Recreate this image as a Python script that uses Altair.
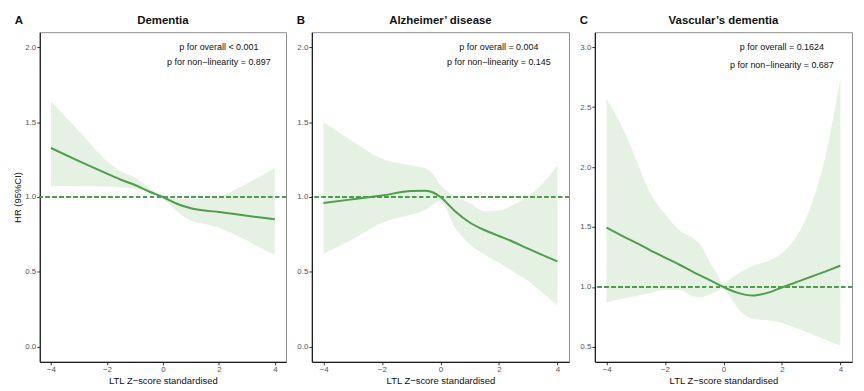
import altair as alt
import pandas as pd

GREEN = "#4d9e4a"
BAND = "#e5f1e2"
FONT = "Liberation Sans"

# ---- Panel A: Dementia ----
a_x = [-4, -3, -2, -1.5, -1, -0.5, 0, 0.5, 1, 1.5, 2, 2.5, 3, 3.5, 4]
a_hr = [1.327, 1.24, 1.156, 1.115, 1.08, 1.037, 1.0, 0.955, 0.925, 0.91, 0.90, 0.888, 0.875, 0.863, 0.852]
a_hi = [1.638, 1.44, 1.24, 1.17, 1.13, 1.06, 1.01, 0.99, 0.985, 0.99, 1.0, 1.04, 1.09, 1.14, 1.196]
a_lo = [1.073, 1.072, 1.07, 1.065, 1.057, 1.03, 0.99, 0.905, 0.844, 0.82, 0.795, 0.755, 0.71, 0.66, 0.614]

# ---- Panel B: Alzheimer' disease ----
b_x = [-4, -3, -2, -1, -0.5, -0.25, 0, 0.5, 1, 1.5, 2, 2.5, 3, 3.5, 4]
b_hr = [0.96, 0.985, 1.01, 1.04, 1.042, 1.03, 1.0, 0.905, 0.83, 0.78, 0.74, 0.70, 0.655, 0.612, 0.57]
b_hi = [1.5, 1.37, 1.255, 1.21, 1.19, 1.15, 1.08, 1.005, 0.96, 0.905, 0.91, 0.95, 1.005, 1.09, 1.21]
b_lo = [0.62, 0.718, 0.828, 0.883, 0.916, 0.95, 0.975, 0.795, 0.685, 0.618, 0.563, 0.50, 0.44, 0.36, 0.276]

# ---- Panel C: Vascular's dementia ----
c_x = [-4, -3.5, -3, -2.5, -2, -1.5, -1, -0.75, -0.5, -0.25, 0, 0.25, 0.5, 1, 1.5, 2, 2.5, 3, 3.5, 4]
c_hr = [1.494, 1.43, 1.37, 1.305, 1.245, 1.185, 1.12, 1.09, 1.06, 1.03, 1.0, 0.972, 0.95, 0.928, 0.95, 0.995, 1.04, 1.085, 1.13, 1.177]
c_hi = [2.57, 2.35, 2.07, 1.78, 1.61, 1.47, 1.40, 1.34, 1.22, 1.12, 1.025, 1.07, 1.11, 1.175, 1.215, 1.28, 1.42, 1.68, 2.10, 2.74]
c_lo = [0.873, 0.90, 0.925, 0.95, 0.975, 0.975, 0.92, 0.915, 0.935, 0.96, 0.985, 0.91, 0.82, 0.735, 0.722, 0.70, 0.655, 0.61, 0.56, 0.51]

titles = ["Dementia", "Alzheimer\u2019 disease", "Vascular\u2019s dementia"]
letters = ["A", "B", "C"]
ann_a = ["p for overall < 0.001", "p for non\u2212linearity = 0.897"]
ann_b = ["p for overall = 0.004", "p for non\u2212linearity = 0.145"]
ann_c = ["p for overall = 0.1624", "p for non\u2212linearity = 0.687"]
x_ticks = [-4, -2, 0, 2, 4]
y_ticks_ab = [0.0, 0.5, 1.0, 1.5, 2.0]
y_ticks_c = [0.5, 1.0, 1.5, 2.0, 2.5, 3.0]


def panel(x, hr, lo, hi, ydom, yticks, ann, ann_y, title, letter, width, ytitle, letter_dx):
    df = pd.DataFrame({"x": x, "hr": hr, "lo": lo, "hi": hi})
    X = alt.X("x:Q", scale=alt.Scale(domain=[-4.4, 4.4], nice=False, zero=False),
              axis=alt.Axis(values=x_ticks, format="d", title="LTL Z\u2212score standardised"))
    ysc = alt.Scale(domain=ydom, nice=False, zero=False)
    yax = alt.Axis(values=yticks, format=".1f", title=ytitle if ytitle else None)
    base = alt.Chart(df)
    band = base.mark_area(color=BAND, opacity=1, interpolate="monotone").encode(
        x=X, y=alt.Y("lo:Q", scale=ysc, axis=yax), y2="hi:Q")
    line = base.mark_line(color=GREEN, strokeWidth=2, interpolate="monotone").encode(
        x="x:Q", y="hr:Q")
    ref = base.mark_rule(color=GREEN, strokeDash=[4, 3], strokeWidth=1.1).encode(y=alt.datum(1.0))
    adf = pd.DataFrame({"x": [2, 2], "y": ann_y, "t": ann})
    txt = alt.Chart(adf).mark_text(fontSize=9, font=FONT, color="#111", align="center",
                                   baseline="middle").encode(x="x:Q", y="y:Q", text="t:N")
    head = alt.Chart(pd.DataFrame({"t": [title]})).mark_text(
        fontSize=11.5, fontWeight="bold", font=FONT, color="#111", align="center", baseline="middle"
    ).encode(text="t:N", x=alt.value(width / 2), y=alt.value(-11))
    let = alt.Chart(pd.DataFrame({"t": [letter]})).mark_text(
        fontSize=11.5, fontWeight="bold", font=FONT, color="#111", align="center", baseline="middle"
    ).encode(text="t:N", x=alt.value(letter_dx), y=alt.value(-11))
    return alt.layer(band, line, ref, txt, head, let).properties(width=width, height=332)


pA = panel(a_x, a_hr, a_lo, a_hi, [-0.1, 2.1], y_ticks_ab, ann_a, [2.0, 1.9], titles[0], letters[0], 248, "HR (95%CI)", -21)
pB = panel(b_x, b_hr, b_lo, b_hi, [-0.1, 2.1], y_ticks_ab, ann_b, [2.0, 1.9], titles[1], letters[1], 259, None, -11)
pC = panel(c_x, c_hr, c_lo, c_hi, [0.375, 3.125], y_ticks_c, ann_c, [3.0, 2.85], titles[2], letters[2], 259, None, -11)

chart = alt.hconcat(pA, pB, pC, spacing=8).properties(
    padding={"left": 4, "top": 5, "right": 2, "bottom": 2},
    background="white",
).configure_view(stroke="#8f8f8f", strokeWidth=1).configure_axis(
    grid=False,
    domainColor="#1a1a1a",
    domainWidth=1.2,
    tickColor="#333333",
    tickSize=3,
    labelColor="#555555",
    labelFont=FONT,
    labelFontSize=8,
    labelPadding=1,
    titleFont=FONT,
    titleFontSize=9.5,
    titleFontWeight="normal",
    titleColor="#111111",
    titlePadding=2,
)

chart.save("out.html", embed_options={"renderer": "svg", "actions": False})
